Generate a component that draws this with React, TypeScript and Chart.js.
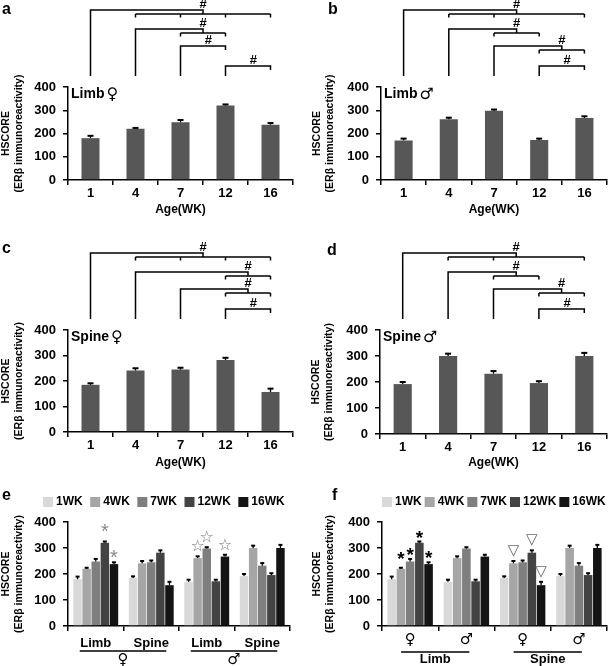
import React, { useEffect, useRef } from 'react';
import { Chart, registerables } from 'chart.js';

Chart.register(...registerables);

const FONT = "'Liberation Sans', Arial, Helvetica, sans-serif";
const SYMBOL_FONT = "'DejaVu Sans', 'Liberation Sans', sans-serif";
Chart.defaults.font.family = FONT;
Chart.defaults.color = '#000';

// ---------------- data ----------------
const AGE_LABELS = ['1', '4', '7', '12', '16'];
const WEEK_SERIES = ['1WK', '4WK', '7WK', '12WK', '16WK'];
const Y_TICKS = [0, 100, 200, 300, 400];

const LIMB_F = [180, 220, 248, 320, 238];
const LIMB_F_ERR = [10, 4, 10, 5, 7];
const LIMB_M = [170, 261, 298, 172, 267];
const LIMB_M_ERR = [8, 7, 5, 6, 7];
const SPINE_F = [185, 241, 245, 282, 157];
const SPINE_F_ERR = [6, 9, 7, 9, 13];
const SPINE_M = [192, 300, 232, 196, 300];
const SPINE_M_ERR = [8, 9, 10, 7, 12];

const E_GROUPS = ['Limb', 'Spine', 'Limb', 'Spine'];
const E_SEXES = ['♀', '♂'];
const F_GROUPS = ['♀', '♂', '♀', '♂'];
const F_TISSUES = ['Limb', 'Spine'];

// significance brackets (#): category index compared with a set of categories
const A_BRACKETS = [
  { from: 0, to: [1, 2, 3, 4], tier: 0 },
  { from: 1, to: [2, 3], tier: 1 },
  { from: 2, to: [3], tier: 2 },
  { from: 3, to: [4], tier: 3 },
];
const B_BRACKETS = [
  { from: 0, to: [1, 2, 4], tier: 0 },
  { from: 1, to: [2, 3], tier: 1 },
  { from: 2, to: [3, 4], tier: 2 },
  { from: 3, to: [4], tier: 3 },
];
const C_BRACKETS = [
  { from: 0, to: [1, 2, 3, 4], tier: 0 },
  { from: 1, to: [3, 4], tier: 1 },
  { from: 2, to: [3, 4], tier: 2 },
  { from: 3, to: [4], tier: 3 },
];
const D_BRACKETS = [
  { from: 0, to: [1, 2, 4], tier: 0 },
  { from: 1, to: [2, 3], tier: 1 },
  { from: 2, to: [3, 4], tier: 2 },
  { from: 3, to: [4], tier: 3 },
];

const E_MARKS = [
  { group: 0, series: 3, symbol: '*' },
  { group: 0, series: 4, symbol: '*' },
  { group: 2, series: 1, symbol: '☆' },
  { group: 2, series: 2, symbol: '☆' },
  { group: 2, series: 4, symbol: '☆' },
];
const F_MARKS = [
  { group: 0, series: 1, symbol: '*' },
  { group: 0, series: 2, symbol: '*' },
  { group: 0, series: 3, symbol: '*' },
  { group: 0, series: 4, symbol: '*' },
  { group: 2, series: 1, symbol: '▽' },
  { group: 2, series: 3, symbol: '▽' },
  { group: 2, series: 4, symbol: '▽' },
];

// ---------------- styles ----------------
const WEEK_COLORS = ['#d9d9d9', '#a6a6a6', '#7f7f7f', '#434343', '#141414'];
const SINGLE_BAR_COLOR = '#575757';
const TIER_OFFSETS = [77, 58, 41, 21];

const E_MARK_STYLE: any = {
  '*': { font: `20px ${FONT}`, color: '#8a8a8a' },
  '☆': { font: `16px ${SYMBOL_FONT}`, color: '#7a7a7a' },
};
const F_MARK_STYLE: any = {
  '*': { font: `bold 19px ${FONT}`, color: '#000' },
  '▽': { font: `15px ${SYMBOL_FONT}`, color: '#6a6a6a' },
};

function centeredText(ctx: any, text: string, x: number, cy: number) {
  const m = ctx.measureText(text);
  const asc = m.actualBoundingBoxAscent || 0;
  const desc = m.actualBoundingBoxDescent || 0;
  ctx.textBaseline = 'alphabetic';
  ctx.textAlign = 'center';
  ctx.fillText(text, x, cy + (asc - desc) / 2);
}

function makeDecor(spec: any) {
  return {
    id: 'decor',
    afterDatasetsDraw(chart: any) {
      const ctx = chart.ctx;
      const ys = chart.scales.y;
      ctx.save();
      ctx.strokeStyle = '#000';
      chart.data.datasets.forEach((ds: any, i: number) => {
        const meta = chart.getDatasetMeta(i);
        meta.data.forEach((bar: any, j: number) => {
          const yTop = ys.getPixelForValue(ds.data[j] + ds.errors[j]);
          ctx.lineWidth = 1.3;
          ctx.beginPath();
          ctx.moveTo(bar.x, bar.y);
          ctx.lineTo(bar.x, yTop);
          ctx.stroke();
          ctx.lineWidth = 2;
          ctx.beginPath();
          ctx.moveTo(bar.x - spec.cap / 2, yTop);
          ctx.lineTo(bar.x + spec.cap / 2, yTop);
          ctx.stroke();
        });
      });
      ctx.restore();
    },
    afterDraw(chart: any) {
      const ctx = chart.ctx;
      const area = chart.chartArea;
      const xs = chart.scales.x;
      const ys = chart.scales.y;
      ctx.save();
      ctx.fillStyle = '#000';
      // panel letter
      ctx.font = `bold 16px ${FONT}`;
      ctx.textAlign = 'left';
      ctx.textBaseline = 'alphabetic';
      ctx.fillText(spec.letter, spec.letterPos[0], spec.letterPos[1]);

      // inner label e.g. Limb♀
      if (spec.tissue) {
        ctx.font = `bold 14px ${FONT}`;
        ctx.textAlign = 'left';
        ctx.textBaseline = 'middle';
        const lx = area.left + 3;
        const ly = area.top + 7;
        ctx.fillText(spec.tissue, lx, ly);
        const w = ctx.measureText(spec.tissue).width;
        ctx.font = `16px ${SYMBOL_FONT}`;
        ctx.fillText(spec.sex, lx + w + 2, ly + 1);
      }

      // brackets
      if (spec.brackets) {
        ctx.strokeStyle = '#000';
        ctx.lineWidth = 1.5;
        const base = area.top - 11;
        spec.brackets.forEach((b: any) => {
          const yTop = area.top - TIER_OFFSETS[b.tier];
          const x0 = xs.getPixelForValue(b.from);
          ctx.beginPath();
          ctx.moveTo(x0, base);
          ctx.lineTo(x0, yTop);
          let hx;
          if (b.to.length === 1) {
            const x1 = xs.getPixelForValue(b.to[0]);
            ctx.lineTo(x1, yTop);
            ctx.lineTo(x1, yTop + 4);
            hx = x0 + (x1 - x0) * 0.62;
          } else {
            const xa = xs.getPixelForValue(Math.min(...b.to));
            const xb = xs.getPixelForValue(Math.max(...b.to));
            const xj = (xa + xb) / 2;
            const yg = yTop + 4;
            ctx.lineTo(xj, yTop);
            ctx.lineTo(xj, yg);
            ctx.moveTo(xa, yg);
            ctx.lineTo(xb, yg);
            b.to.forEach((t: number) => {
              const xt = xs.getPixelForValue(t);
              ctx.moveTo(xt, yg);
              ctx.lineTo(xt, yg + 3.5);
            });
            hx = xj;
          }
          ctx.stroke();
          ctx.font = `bold 13px ${FONT}`;
          ctx.textAlign = 'center';
          ctx.textBaseline = 'alphabetic';
          ctx.fillText('#', hx, yTop - 2);
        });
      }

      // legend
      if (spec.legend) {
        let x = spec.legend.x;
        const y = spec.legend.y;
        ctx.font = `bold 12px ${FONT}`;
        ctx.textAlign = 'left';
        ctx.textBaseline = 'middle';
        chart.data.datasets.forEach((ds: any) => {
          ctx.fillStyle = ds.backgroundColor;
          ctx.fillRect(x, y - 5, 10, 10);
          x += 13;
          ctx.fillStyle = '#000';
          ctx.fillText(ds.label, x, y);
          x += ctx.measureText(ds.label).width + spec.legend.gap;
        });
      }

      // significance markers
      if (spec.marks) {
        spec.marks.forEach((m: any) => {
          const ds = chart.data.datasets[m.series];
          const bar = chart.getDatasetMeta(m.series).data[m.group];
          const errTop = ys.getPixelForValue(ds.data[m.group] + ds.errors[m.group]);
          const st = spec.markStyle[m.symbol];
          ctx.font = st.font;
          ctx.fillStyle = st.color;
          const mm = ctx.measureText(m.symbol);
          const h = (mm.actualBoundingBoxAscent || 0) + (mm.actualBoundingBoxDescent || 0);
          centeredText(ctx, m.symbol, bar.x, errTop - h / 2 - 4);
        });
      }

      // second-level x labels with underline
      if (spec.pairs) {
        ctx.strokeStyle = '#000';
        ctx.lineWidth = 1.5;
        ctx.fillStyle = '#000';
        spec.pairs.labels.forEach((lab: string, p: number) => {
          const c0 = xs.getPixelForValue(2 * p);
          const c1 = xs.getPixelForValue(2 * p + 1);
          const xa = c0 - spec.pairs.ulLeft;
          const xb = c1 + spec.pairs.ulRight;
          ctx.beginPath();
          ctx.moveTo(xa, spec.pairs.ulY);
          ctx.lineTo(xb, spec.pairs.ulY);
          ctx.stroke();
          ctx.font = spec.pairs.font;
          ctx.textAlign = 'center';
          ctx.textBaseline = 'middle';
          ctx.fillText(lab, (xa + xb) / 2, spec.pairs.textY);
        });
      }
      ctx.restore();
    },
  };
}

function axisOptions(spec: any) {
  const lh = 12 * 1.2;
  return {
    x: {
      grid: { display: true, drawOnChartArea: false, drawTicks: true, tickLength: 5, color: '#000', lineWidth: 1.5, offset: true },
      border: { display: true, color: '#000', width: 1.5 },
      ticks: { font: spec.xTickFont, padding: spec.xTickPad, color: '#000', autoSkip: false, maxRotation: 0 },
      title: spec.xTitle
        ? {
            display: true,
            text: spec.xTitle,
            font: { size: 12, weight: 'bold' },
            color: '#000',
            padding: { top: 0, bottom: spec.box.height - spec.xTitleY - lh / 2 },
          }
        : { display: false },
      afterFit: (s: any) => {
        s.height = spec.box.height - spec.area.bottom;
      },
    },
    y: {
      min: 0,
      max: 400,
      afterBuildTicks: (s: any) => {
        s.ticks = Y_TICKS.map((v) => ({ value: v }));
      },
      grid: { display: true, drawOnChartArea: false, drawTicks: true, tickLength: 5, color: '#000', lineWidth: 1.5 },
      border: { display: true, color: '#000', width: 1.5 },
      ticks: { font: { size: 13, weight: 'bold' }, padding: 7, color: '#000' },
      title: {
        display: true,
        text: ['HSCORE', '(ERβ immunoreactivity)'],
        font: { size: 10.5, weight: 'bold' },
        color: '#000',
        padding: { top: 0, bottom: 0 },
      },
      afterFit: (s: any) => {
        s.width = spec.area.left - spec.padLeft;
      },
    },
  };
}

function buildConfig(spec: any, datasets: any[], labels: string[]) {
  return {
    type: 'bar',
    data: { labels, datasets },
    options: {
      responsive: false,
      animation: false,
      devicePixelRatio: 1,
      layout: {
        padding: { top: spec.area.top, left: spec.padLeft, right: spec.box.width - spec.area.right, bottom: 0 },
      },
      plugins: { legend: { display: false }, tooltip: { enabled: false }, title: { display: false } },
      scales: axisOptions(spec),
    },
    plugins: [makeDecor(spec)],
  };
}

function singleDataset(values: number[], errors: number[]) {
  return [
    {
      label: 'HSCORE',
      data: values,
      errors,
      backgroundColor: SINGLE_BAR_COLOR,
      barPercentage: 0.4,
      categoryPercentage: 1,
    },
  ];
}

function groupedDatasets(groups: { values: number[]; errors: number[] }[]) {
  return WEEK_SERIES.map((name, k) => ({
    label: name,
    data: groups.map((g) => g.values[k]),
    errors: groups.map((g) => g.errors[k]),
    backgroundColor: WEEK_COLORS[k],
    barPercentage: 0.93,
    categoryPercentage: 0.82,
  }));
}

const TOP_TICK_FONT = { size: 13, weight: 'bold' };

const PANELS: any[] = [
  {
    letter: 'a', letterPos: [2, 14], tissue: 'Limb', sex: '♀', brackets: A_BRACKETS, cap: 6,
    box: { left: 0, top: 0, width: 300, height: 222 },
    area: { top: 87, left: 68, right: 293, bottom: 180 }, padLeft: 0,
    xTitle: 'Age(WK)', xTitleY: 210, xTickFont: TOP_TICK_FONT, xTickPad: 1,
    make: (s: any) => buildConfig(s, singleDataset(LIMB_F, LIMB_F_ERR), AGE_LABELS),
  },
  {
    letter: 'b', letterPos: [28, 14], tissue: 'Limb', sex: '♂', brackets: B_BRACKETS, cap: 6,
    box: { left: 300, top: 0, width: 309, height: 222 },
    area: { top: 87, left: 81, right: 307, bottom: 180 }, padLeft: 11,
    xTitle: 'Age(WK)', xTitleY: 210, xTickFont: TOP_TICK_FONT, xTickPad: 1,
    make: (s: any) => buildConfig(s, singleDataset(LIMB_M, LIMB_M_ERR), AGE_LABELS),
  },
  {
    letter: 'c', letterPos: [2, 31], tissue: 'Spine', sex: '♀', brackets: C_BRACKETS, cap: 6,
    box: { left: 0, top: 222, width: 300, height: 250 },
    area: { top: 108, left: 68, right: 293, bottom: 210 }, padLeft: 0,
    xTitle: 'Age(WK)', xTitleY: 241, xTickFont: TOP_TICK_FONT, xTickPad: 1,
    make: (s: any) => buildConfig(s, singleDataset(SPINE_F, SPINE_F_ERR), AGE_LABELS),
  },
  {
    letter: 'd', letterPos: [27, 33], tissue: 'Spine', sex: '♂', brackets: D_BRACKETS, cap: 6,
    box: { left: 300, top: 222, width: 309, height: 250 },
    area: { top: 108, left: 80, right: 307, bottom: 212 }, padLeft: 10,
    xTitle: 'Age(WK)', xTitleY: 241, xTickFont: TOP_TICK_FONT, xTickPad: 1,
    make: (s: any) => buildConfig(s, singleDataset(SPINE_M, SPINE_M_ERR), AGE_LABELS),
  },
  {
    letter: 'e', letterPos: [2, 28], cap: 4,
    box: { left: 0, top: 472, width: 300, height: 194 },
    area: { top: 50, left: 68, right: 290, bottom: 154 }, padLeft: 0,
    xTickFont: { size: 13, weight: 'bold' }, xTickPad: 5,
    legend: { x: 43, y: 30, gap: 7.5 },
    marks: E_MARKS, markStyle: E_MARK_STYLE,
    pairs: { labels: E_SEXES, ulLeft: 16, ulRight: 15, ulY: 179, textY: 188, font: `15px ${SYMBOL_FONT}` },
    make: (s: any) =>
      buildConfig(
        s,
        groupedDatasets([
          { values: LIMB_F, errors: LIMB_F_ERR },
          { values: SPINE_F, errors: SPINE_F_ERR },
          { values: LIMB_M, errors: LIMB_M_ERR },
          { values: SPINE_M, errors: SPINE_M_ERR },
        ]),
        E_GROUPS
      ),
  },
  {
    letter: 'f', letterPos: [32, 28], cap: 4,
    box: { left: 300, top: 472, width: 309, height: 194 },
    area: { top: 50, left: 82, right: 307, bottom: 154 }, padLeft: 11,
    xTickFont: { size: 15, weight: 'normal', family: SYMBOL_FONT }, xTickPad: 0,
    legend: { x: 82, y: 30, gap: 3 },
    marks: F_MARKS, markStyle: F_MARK_STYLE,
    pairs: { labels: F_TISSUES, ulLeft: 9, ulRight: 3, ulY: 180, textY: 187, font: `bold 13px ${FONT}` },
    make: (s: any) =>
      buildConfig(
        s,
        groupedDatasets([
          { values: LIMB_F, errors: LIMB_F_ERR },
          { values: LIMB_M, errors: LIMB_M_ERR },
          { values: SPINE_F, errors: SPINE_F_ERR },
          { values: SPINE_M, errors: SPINE_M_ERR },
        ]),
        F_GROUPS
      ),
  },
];

function Panel({ spec }: { spec: any }) {
  const ref = useRef<HTMLCanvasElement | null>(null);
  useEffect(() => {
    const chart = new Chart(ref.current as HTMLCanvasElement, spec.make(spec) as any);
    return () => chart.destroy();
  }, [spec]);
  const { left, top, width, height } = spec.box;
  return (
    <canvas
      ref={ref}
      width={width}
      height={height}
      style={{ position: 'absolute', left, top, width, height, display: 'block' }}
    />
  );
}

export default function App() {
  return (
    <div style={{ position: 'absolute', left: 0, top: 0, width: 609, height: 666, background: '#fff', overflow: 'hidden' }}>
      {PANELS.map((p) => (
        <Panel key={p.letter} spec={p} />
      ))}
    </div>
  );
}
